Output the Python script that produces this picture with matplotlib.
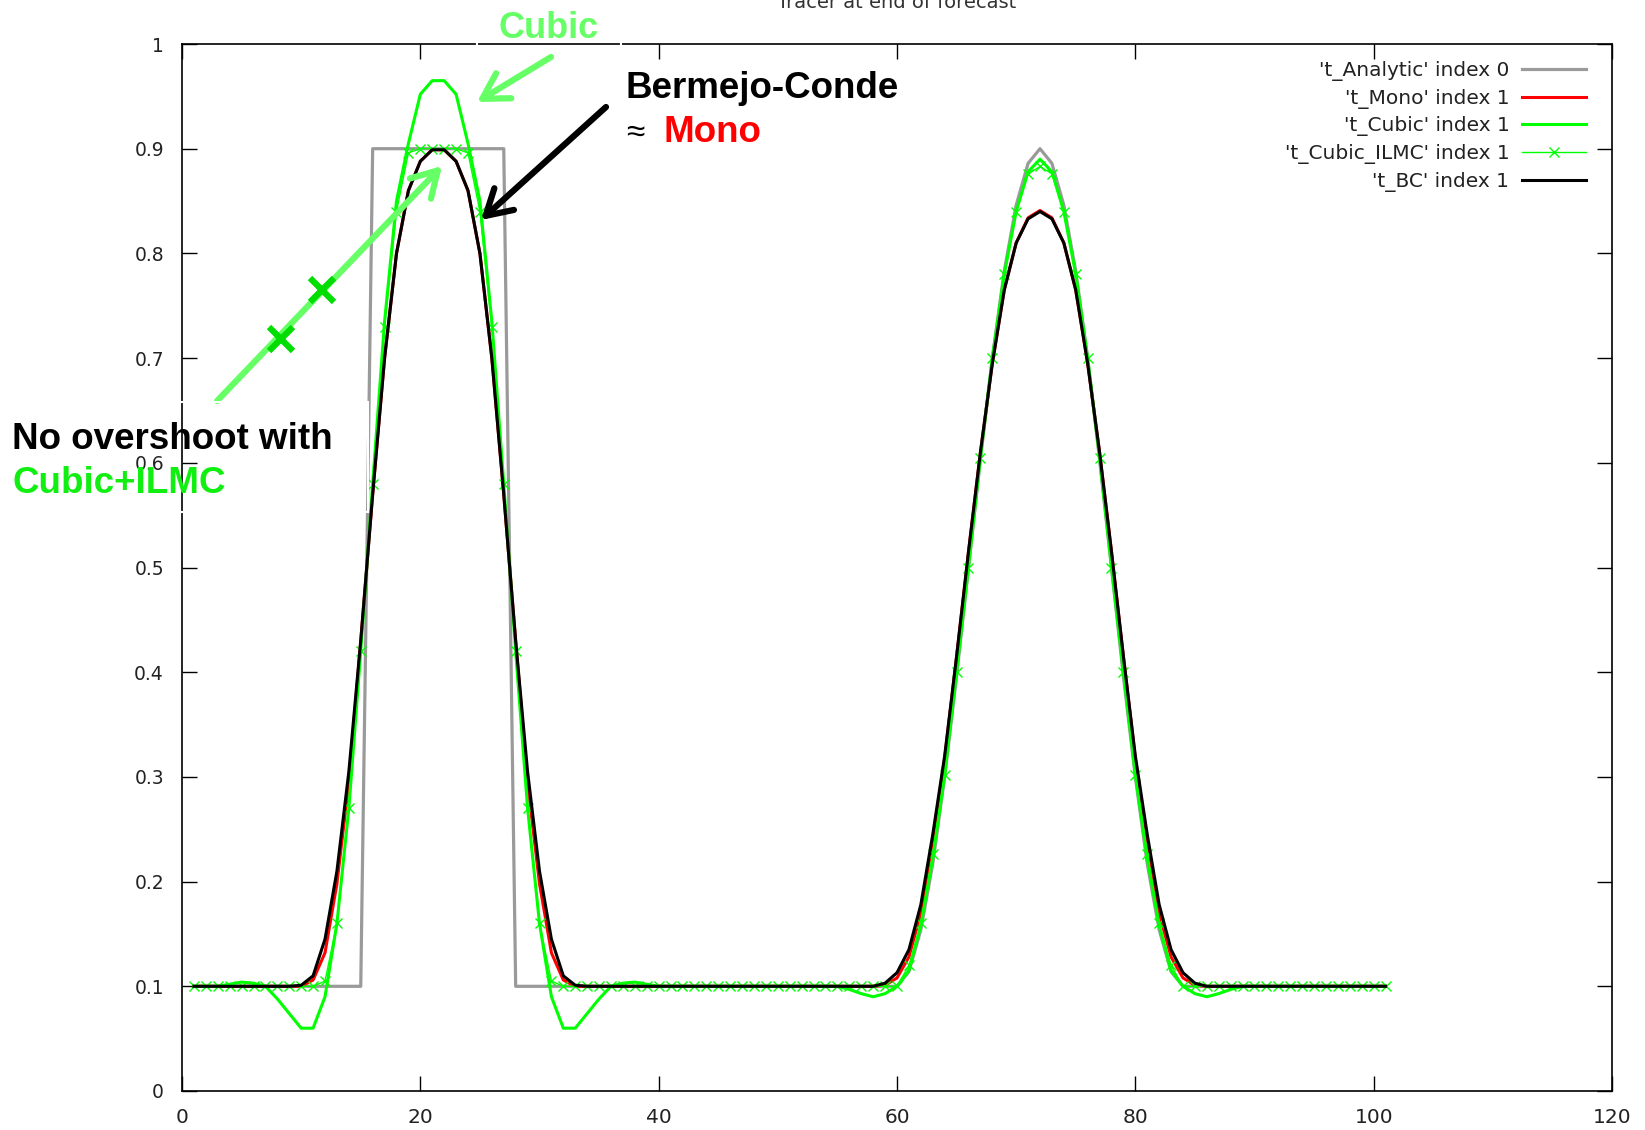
import numpy as np
import matplotlib
matplotlib.use('Agg')
import matplotlib.pyplot as plt
from matplotlib.lines import Line2D
from matplotlib.patches import Rectangle

# ---------------- data (grid points 1..101) ----------------
x_grid = np.arange(1, 102)

t_analytic = ([0.1] * 15 + [0.9] * 12 + [0.1] * 33 +
              [0.114, 0.154, 0.217, 0.300, 0.396, 0.500, 0.603, 0.700, 0.783, 0.846, 0.886, 0.900,
               0.886, 0.846, 0.783, 0.700, 0.603, 0.500, 0.396, 0.300, 0.217, 0.154, 0.114] +
              [0.1] * 18)

t_bc = ([0.1] * 9 +
        [0.101, 0.11, 0.145, 0.21, 0.305, 0.43, 0.57, 0.70, 0.80, 0.86, 0.888, 0.899,
         0.899, 0.888, 0.86, 0.80, 0.70, 0.57, 0.43, 0.305, 0.21, 0.145, 0.11, 0.101] +
        [0.1] * 25 +
        [0.103, 0.113, 0.135, 0.178, 0.245, 0.32, 0.415, 0.515, 0.61, 0.695, 0.765, 0.81, 0.833, 0.84,
         0.833, 0.81, 0.765, 0.695, 0.61, 0.515, 0.415, 0.32, 0.245, 0.178, 0.135, 0.113, 0.103] +
        [0.1] * 16)

t_mono = ([0.1] * 9 +
          [0.1, 0.106, 0.132, 0.198, 0.295, 0.43, 0.57, 0.70, 0.80, 0.86, 0.888, 0.899,
           0.899, 0.888, 0.86, 0.80, 0.70, 0.57, 0.43, 0.295, 0.198, 0.132, 0.106, 0.1] +
          [0.1] * 25 +
          [0.101, 0.108, 0.128, 0.17, 0.24, 0.318, 0.415, 0.515, 0.61, 0.695, 0.765, 0.81, 0.834, 0.841,
           0.834, 0.81, 0.765, 0.695, 0.61, 0.515, 0.415, 0.318, 0.24, 0.17, 0.128, 0.108, 0.101] +
          [0.1] * 16)

t_cubic = ([0.1, 0.1] +
           [0.1, 0.102, 0.104, 0.103, 0.1] +
           [0.088, 0.074, 0.06, 0.06] +
           [0.09, 0.16, 0.27, 0.42, 0.58, 0.735, 0.85, 0.905, 0.952, 0.965,
            0.965, 0.952, 0.905, 0.85, 0.735, 0.58, 0.42, 0.27, 0.16, 0.09] +
           [0.06, 0.06, 0.074, 0.088] +
           [0.1, 0.103, 0.104, 0.102, 0.1] +
           [0.1] * 15 +
           [0.097, 0.093, 0.09, 0.093, 0.1] +
           [0.115, 0.158, 0.222, 0.302, 0.40, 0.50, 0.605, 0.70, 0.78, 0.84, 0.878, 0.89,
            0.878, 0.84, 0.78, 0.70, 0.605, 0.50, 0.40, 0.302, 0.222, 0.158, 0.115] +
           [0.1, 0.093, 0.09, 0.093, 0.097] +
           [0.1] * 13)

t_cubic_ilmc = ([0.1] * 11 +
                [0.105, 0.16, 0.27, 0.42, 0.58, 0.73, 0.84, 0.896, 0.9, 0.9,
                 0.9, 0.9, 0.896, 0.84, 0.73, 0.58, 0.42, 0.27, 0.16, 0.105] +
                [0.1] * 29 +
                [0.12, 0.16, 0.226, 0.302, 0.40, 0.50, 0.605, 0.70, 0.78, 0.84, 0.876, 0.883,
                 0.876, 0.84, 0.78, 0.70, 0.605, 0.50, 0.40, 0.302, 0.226, 0.16, 0.12] +
                [0.1] * 18)

series_labels = ["'t_Analytic' index 0", "'t_Mono' index 1", "'t_Cubic' index 1",
                 "'t_Cubic_ILMC' index 1", "'t_BC' index 1"]
x_ticks = [0, 20, 40, 60, 80, 100, 120]
y_ticks = [0, 0.1, 0.2, 0.3, 0.4, 0.5, 0.6, 0.7, 0.8, 0.9, 1.0]
y_ticklabels = ['0', '0.1', '0.2', '0.3', '0.4', '0.5', '0.6', '0.7', '0.8', '0.9', '1']

# ---------------- figure ----------------
W, H = 1645, 1130
fig = plt.figure(figsize=(W / 100, H / 100), dpi=100)
ax = fig.add_axes([182 / W, 1 - 1091 / H, (1612 - 182) / W, (1091 - 44) / H])


def P(px, py):
    return (px / W, 1 - py / H)


ax.plot(x_grid, t_analytic, color='#9a9a9a', lw=2.3, label=series_labels[0])
ax.plot(x_grid, t_mono, color='#ff0000', lw=2.2, label=series_labels[1])
ax.plot(x_grid, t_cubic, color='#00ff00', lw=2.2, label=series_labels[2])
ax.plot(x_grid, t_cubic_ilmc, color='#00ff00', lw=1.0, marker='x', ms=7.5, mew=1.0,
        label=series_labels[3])
ax.plot(x_grid, t_bc, color='#000000', lw=2.2, label=series_labels[4])

ax.set_xlim(0, 120)
ax.set_ylim(0, 1)
ax.set_xticks(x_ticks)
ax.set_yticks(y_ticks)
ax.set_yticklabels(y_ticklabels)
ax.tick_params(direction='in', length=11, width=1, top=True, right=True,
               labelcolor='#222222')
ax.tick_params(axis='y', pad=13, labelsize=13.5)
ax.tick_params(axis='x', pad=12, labelsize=14.5)
for sp in ax.spines.values():
    sp.set_linewidth(1.2)

leg = ax.legend(loc='upper right', bbox_to_anchor=P(1586, 61), bbox_transform=fig.transFigure,
                frameon=False, markerfirst=False, fontsize=14.5, handlelength=3.2,
                handletextpad=0.6, labelspacing=0.38, borderpad=0, borderaxespad=0)
for col in leg._legend_handle_box.get_children():
    col.align = 'right'
for t in leg.get_texts():
    t.set_color('#222222')

# title (mostly cut off at the top)
fig.text(*P(897, 8), 'Tracer at end of forecast', ha='center', va='baseline',
         fontsize=14, color='#333333')

# ---------------- annotations ----------------
bold = dict(fontweight='bold', family=['Liberation Sans', 'DejaVu Sans'])
fig.text(*P(549, 38), 'Cubic', ha='center', va='baseline', fontsize=26, color='#66ff66', **bold)
fig.text(*P(626, 98), 'Bermejo-Conde', ha='left', va='baseline', fontsize=26.5, color='black', **bold)
fig.text(*P(626, 142), '\u2248', ha='left', va='baseline', fontsize=24, color='black',
         family=['Liberation Sans', 'DejaVu Sans'])
fig.text(*P(663, 142), 'Mono', ha='left', va='baseline', fontsize=26.5, color='#ff0000', **bold)
fig.text(*P(12, 449), 'No overshoot with', ha='left', va='baseline', fontsize=26.5, color='black', **bold)
fig.text(*P(12, 493), 'Cubic+ILMC', ha='left', va='baseline', fontsize=26.5, color='#11ee11', **bold)

arrow_green = dict(arrowstyle='->,head_length=0.6,head_width=0.35', lw=4.5, color='#66ff66',
                   mutation_scale=30, shrinkA=0, shrinkB=0)
arrow_black = dict(arrowstyle='->,head_length=0.6,head_width=0.35', lw=4.5, color='black',
                   mutation_scale=30, shrinkA=0, shrinkB=0)
ax.annotate('', xy=P(477, 102), xytext=P(551, 57), xycoords='figure fraction',
            textcoords='figure fraction', arrowprops=arrow_green, annotation_clip=False)
ax.annotate('', xy=P(481, 220), xytext=P(606, 107), xycoords='figure fraction',
            textcoords='figure fraction', arrowprops=arrow_black, annotation_clip=False)
ax.annotate('', xy=P(442, 166), xytext=P(217, 401), xycoords='figure fraction',
            textcoords='figure fraction', arrowprops=arrow_green, annotation_clip=False)
for (mx, my) in [(281, 339), (322, 290)]:
    fig.add_artist(Line2D([mx / W], [1 - my / H], marker='x', ms=17, mew=4.5,
                          color='#00dd00', transform=fig.transFigure))

# white text-box outlines (from the slide)
fig.add_artist(Rectangle(P(-5, 512), 373 / W, 110 / H, transform=fig.transFigure,
                         fill=False, edgecolor='white', lw=1.5))
fig.add_artist(Rectangle(P(477, 48), 144 / W, 48 / H, transform=fig.transFigure,
                         fill=False, edgecolor='white', lw=1.5))

fig.savefig('out.png', dpi=100)
